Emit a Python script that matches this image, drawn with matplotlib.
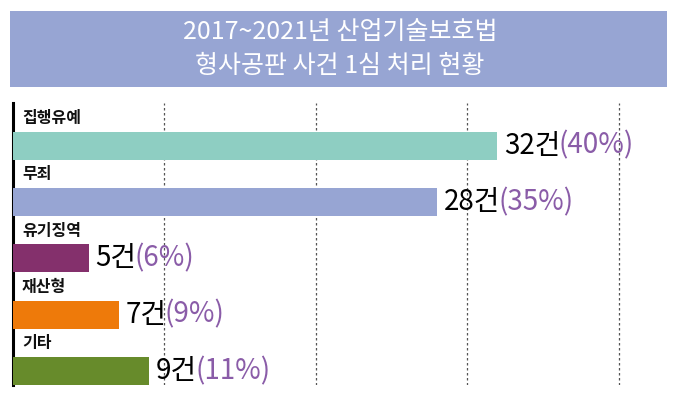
import matplotlib
matplotlib.use("Agg")
import matplotlib.pyplot as plt
from matplotlib.patches import Rectangle

plt.rcParams['font.family'] = ['Noto Sans CJK KR', 'DejaVu Sans']

categories = ['집행유예', '무죄', '유기징역', '재산형', '기타']
counts = [32, 28, 5, 7, 9]
percents = [40, 35, 6, 9, 11]
colors = ['#8ECEC2', '#97A5D3', '#84306C', '#EE7A0A', '#678B2B']
title_lines = ['2017~2021년 산업기술보호법', '형사공판 사건 1심 처리 현황']

W, H = 680, 396
fig = plt.figure(figsize=(W / 100, H / 100), dpi=100)

# title box
fig.patches.append(Rectangle((10 / W, 1 - 87 / H), 657 / W, 76 / H,
                             transform=fig.transFigure, facecolor='#97A5D3',
                             edgecolor='none'))
fig.text(0.5, 1 - 32 / H, title_lines[0], ha='center', va='center',
         color='white', fontsize=18)
fig.text(0.5, 1 - 66 / H, title_lines[1], ha='center', va='center',
         color='white', fontsize=18)

ax = fig.add_axes([13 / W, 1 - 385 / H, 654 / W, 282 / H])
y = list(range(len(categories)))
ax.barh(y, counts, height=0.5, color=colors, zorder=3)
ax.set_xlim(0, 43.2)
ax.set_ylim(4.25, -0.76)

for gx in [10, 20, 30, 40]:
    ax.axvline(gx, color='#555555', lw=0.9, ls=(0, (2, 2)), zorder=1)

for s in ['top', 'right', 'bottom']:
    ax.spines[s].set_visible(False)
ax.spines['left'].set_linewidth(2.2)
ax.spines['left'].set_color('black')
ax.set_xticks([])
ax.set_yticks([])

fig.canvas.draw()
for i, (cat, c, p) in enumerate(zip(categories, counts, percents)):
    ax.text(0.6, i - 0.49, cat, ha='left', va='center', fontsize=11.5,
            fontweight='bold', color='#111111')
    t = ax.annotate(f'{c}건', xy=(c, i), xytext=(5, 0), textcoords='offset points',
                    ha='left', va='center', fontsize=20, color='black')
    fig.canvas.draw()
    bb = t.get_window_extent()
    ax.annotate(f'({p}%)', xy=(c, i), xycoords='data',
                xytext=(bb.x1 - ax.transData.transform((c, i))[0] - 2, 0),
                textcoords='offset pixels', ha='left', va='center',
                fontsize=20, color='#8A5CA8')

fig.savefig('out.png', dpi=100)
